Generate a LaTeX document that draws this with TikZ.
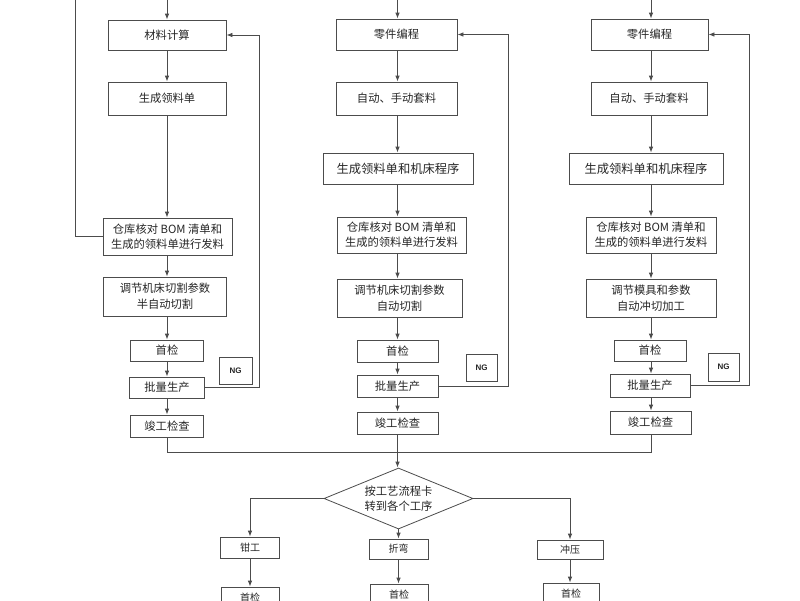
\documentclass[tikz,border=0pt]{standalone}
\usepackage{fontspec}
\setmainfont{Noto Sans CJK SC}
\newfontfamily\ngfont{Liberation Sans}
\usetikzlibrary{shapes.geometric,arrows.meta}
\tikzset{
  wh/.style 2 args={minimum width=#1pt, minimum height=#2pt},
  box/.style={draw=black!70, line width=0.8pt, inner sep=0pt, align=center,
    font=\fontsize{11.3}{15}\selectfont, text=black!85},
  box2/.style={box, font=\fontsize{11.3}{16}\selectfont},
  bigbox/.style={box, font=\fontsize{12.3}{15}\selectfont},
  smallbox/.style={box, font=\fontsize{10}{12}\selectfont},
  ngbox/.style={box, font=\ngfont\bfseries\fontsize{8}{10}\selectfont},
  diam/.style={draw=black!70, line width=0.8pt, shape=diamond, aspect=2.44,
    inner sep=0pt, align=center, font=\fontsize{11.3}{15}\selectfont, text=black!85,
    minimum width=149pt, minimum height=61pt},
  arr/.style={draw=black!70, line width=0.8pt, -{Latex[length=6pt,width=4.5pt]}},
  ln/.style={draw=black!70, line width=0.8pt}
}
\begin{document}
\begin{tikzpicture}[x=1pt,y=-1pt]
\fill[white] (0,0) rectangle (800,600);
\useasboundingbox (0,0) rectangle (800,600);
\clip (0,0) rectangle (800,600);

% top coordinates
\coordinate (t0) at (75,0);
\coordinate (t1) at (167,0);
\coordinate (t2) at (397.5,0);
\coordinate (t3) at (651,0);
\coordinate (c1) at (259,0);
\coordinate (c2) at (508,0);
\coordinate (c3) at (749,0);

% column 1
\node[box,wh={118}{30}] (m1) at (167,35) {材料计算};
\node[box,wh={118}{33}] (m2) at (167,98.5) {生成领料单};
\node[box,wh={129}{37}] (m3) at (167.5,236.5) {仓库核对 BOM 清单和\\生成的领料单进行发料};
\node[box2,wh={123}{39}] (m4) at (165,296.5) {调节机床切割参数\\半自动切割};
\node[box,wh={73}{21}] (m5) at (167,350.5) {首检};
\node[box,wh={75}{21}] (m6) at (167,387.5) {批量生产};
\node[box,wh={73}{22}] (m7) at (167,426) {竣工检查};
\node[ngbox,wh={33}{27}] (n1) at (235.5,370.5) {NG};

% column 2
\node[box,wh={121}{31}] (z1) at (396.5,34.5) {零件编程};
\node[box,wh={121}{33}] (z2) at (396.5,98.5) {自动、手动套料};
\node[bigbox,wh={150}{31}] (z3) at (398,168.5) {生成领料单和机床程序};
\node[box,wh={129}{36}] (z4) at (401.5,235) {仓库核对 BOM 清单和\\生成的领料单进行发料};
\node[box2,wh={125}{38}] (z5) at (399.5,298) {调节机床切割参数\\自动切割};
\node[box,wh={81}{22}] (z6) at (397.5,351) {首检};
\node[box,wh={81}{22}] (z7) at (397.5,386) {批量生产};
\node[box,wh={81}{22}] (z8) at (397.5,423) {竣工检查};
\node[ngbox,wh={31}{27}] (n2) at (481.5,367.5) {NG};

% column 3
\node[box,wh={117}{31}] (p1) at (649.5,34.5) {零件编程};
\node[box,wh={116}{33}] (p2) at (649,98.5) {自动、手动套料};
\node[bigbox,wh={154}{31}] (p3) at (646,168.5) {生成领料单和机床程序};
\node[box,wh={130}{36}] (p4) at (651,235) {仓库核对 BOM 清单和\\生成的领料单进行发料};
\node[box2,wh={130}{38}] (p5) at (651,298) {调节模具和参数\\自动冲切加工};
\node[box,wh={72}{21}] (p6) at (650,350.5) {首检};
\node[box,wh={80}{23}] (p7) at (650,385.5) {批量生产};
\node[box,wh={81}{23}] (p8) at (650.5,422.5) {竣工检查};
\node[ngbox,wh={31}{28}] (n3) at (723.5,367) {NG};

% vertical flow column 1
\draw[arr] (t1) -- (t1 |- m1.north);
\draw[arr] (t1 |- m1.south) -- (t1 |- m2.north);
\draw[arr] (t1 |- m2.south) -- (t1 |- m3.north);
\draw[arr] (t1 |- m3.south) -- (t1 |- m4.north);
\draw[arr] (t1 |- m4.south) -- (t1 |- m5.north);
\draw[arr] (t1 |- m5.south) -- (t1 |- m6.north);
\draw[arr] (t1 |- m6.south) -- (t1 |- m7.north);
\draw[ln] (t0) |- (m3.west);
\draw[arr] (m6.east) -- (m6.east -| c1) -- (c1 |- m1.east) -- (m1.east);

% vertical flow column 2
\draw[arr] (t2) -- (t2 |- z1.north);
\draw[arr] (t2 |- z1.south) -- (t2 |- z2.north);
\draw[arr] (t2 |- z2.south) -- (t2 |- z3.north);
\draw[arr] (t2 |- z3.south) -- (t2 |- z4.north);
\draw[arr] (t2 |- z4.south) -- (t2 |- z5.north);
\draw[arr] (t2 |- z5.south) -- (t2 |- z6.north);
\draw[arr] (t2 |- z6.south) -- (t2 |- z7.north);
\draw[arr] (t2 |- z7.south) -- (t2 |- z8.north);
\draw[arr] (z7.east) -- (z7.east -| c2) -- (c2 |- z1.east) -- (z1.east);

% vertical flow column 3
\draw[arr] (t3) -- (t3 |- p1.north);
\draw[arr] (t3 |- p1.south) -- (t3 |- p2.north);
\draw[arr] (t3 |- p2.south) -- (t3 |- p3.north);
\draw[arr] (t3 |- p3.south) -- (t3 |- p4.north);
\draw[arr] (t3 |- p4.south) -- (t3 |- p5.north);
\draw[arr] (t3 |- p5.south) -- (t3 |- p6.north);
\draw[arr] (t3 |- p6.south) -- (t3 |- p7.north);
\draw[arr] (t3 |- p7.south) -- (t3 |- p8.north);
\draw[arr] (p7.east) -- (p7.east -| c3) -- (c3 |- p1.east) -- (p1.east);

% merge
\coordinate (j) at (397.5,452);
\node[diam] (d) at (398.5,498.5) {按工艺流程卡\\转到各个工序};
\draw[ln] (t1 |- m7.south) |- (j);
\draw[ln] (t3 |- p8.south) |- (j);
\draw[ln] (t2 |- z8.south) -- (j);
\draw[arr] (j) -- (j |- d.north);

% bottom branches
\node[smallbox,wh={59}{21}] (q1) at (250,547.5) {钳工};
\node[smallbox,wh={59}{20}] (q2) at (398.5,549) {折弯};
\node[smallbox,wh={66}{19}] (q3) at (570,549.5) {冲压};
\node[smallbox,wh={58}{22}] (r1) at (250,598) {首检};
\node[smallbox,wh={58}{22}] (r2) at (399,595) {首检};
\node[smallbox,wh={56}{22}] (r3) at (571,594) {首检};
\draw[arr] (d.west) -| (q1.north);
\draw[arr] (d.south) -- (d.south |- q2.north);
\draw[arr] (d.east) -| (q3.north);
\draw[arr] (q1) -- (q1 |- r1.north);
\draw[arr] (q2) -- (q2 |- r2.north);
\draw[arr] (q3) -- (q3 |- r3.north);
\end{tikzpicture}
\end{document}
